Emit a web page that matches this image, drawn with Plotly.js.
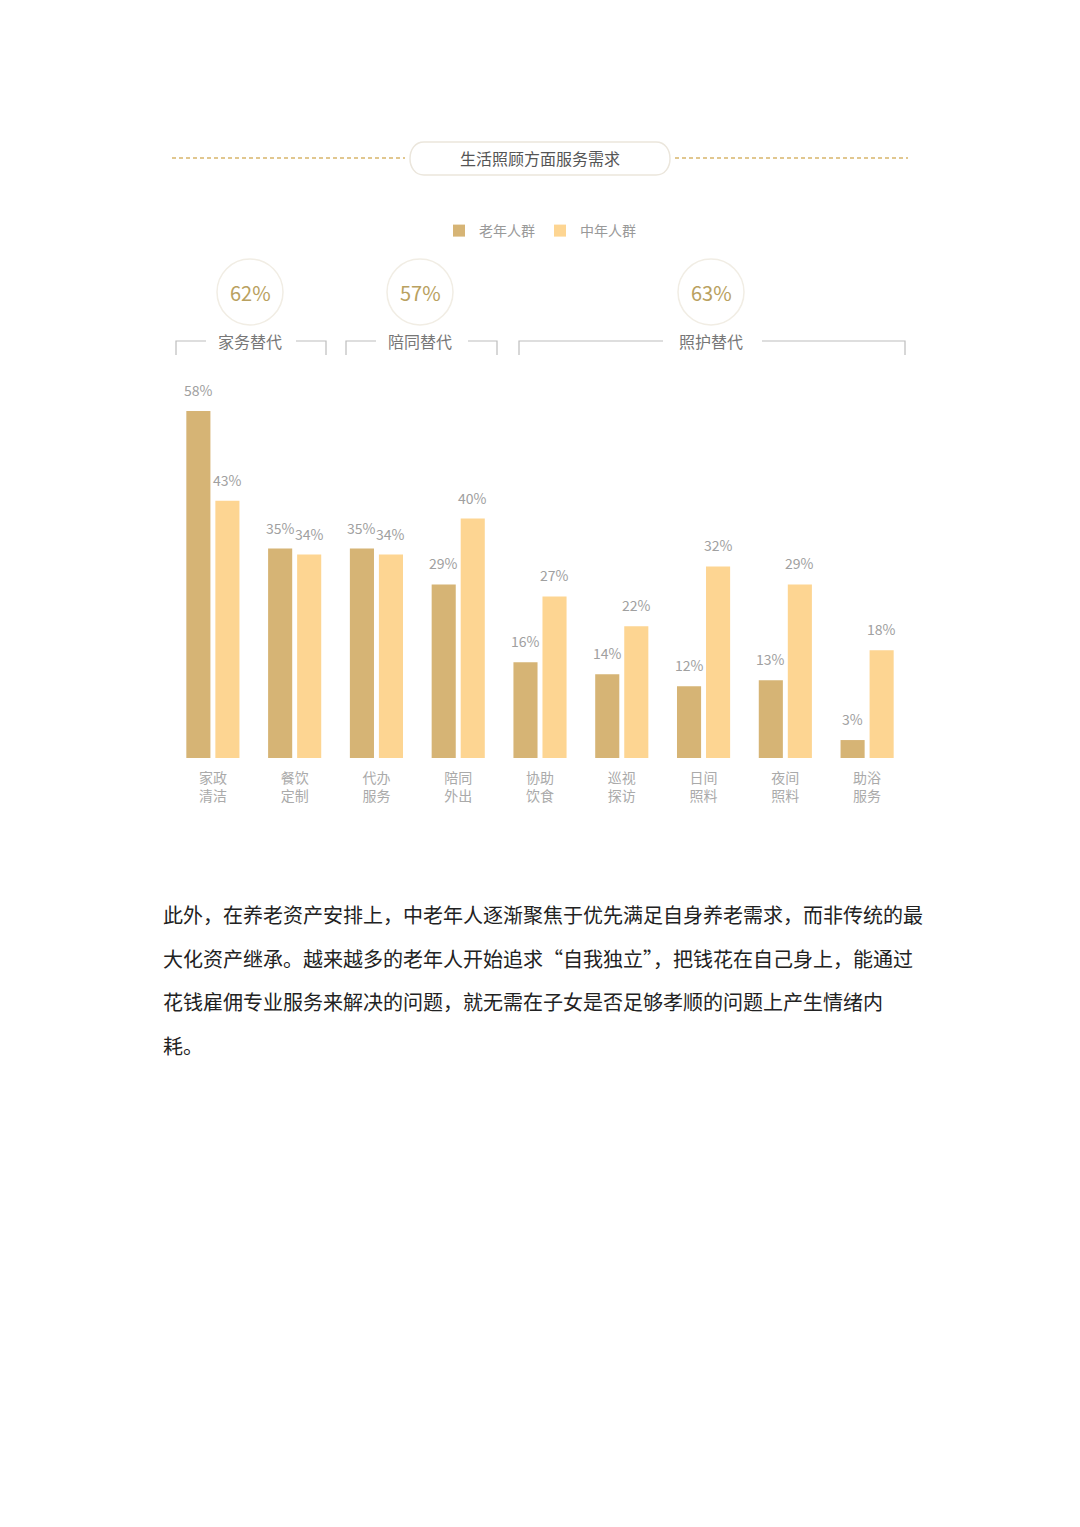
<!DOCTYPE html>
<html>
<head>
<meta charset="utf-8">
<script src="https://cdn.plot.ly/plotly-3.0.1.min.js"></script>
<style>
  body { margin: 0; background: #fff; }
  #wrap { position: relative; width: 1080px; height: 1527px; }
  #chart { position: absolute; left: 0; top: 0; width: 1080px; height: 1527px; }
  #para {
    position: absolute; left: 163px; top: 893px;
    font-family: "Noto Sans CJK SC", "Noto Sans", sans-serif;
    font-size: 20px; line-height: 43.7px; color: #222; white-space: nowrap;
  }
</style>
</head>
<body>
<div id="wrap">
  <div id="chart"></div>
  <div id="para">此外，在养老资产安排上，中老年人逐渐聚焦于优先满足自身养老需求，而非传统的最<br>大化资产继承。越来越多的老年人开始追求“自我独立”，把钱花在自己身上，能通过<br>花钱雇佣专业服务来解决的问题，就无需在子女是否足够孝顺的问题上产生情绪内<br>耗。</div>
</div>
<script>
// categories and values (percent)
var categories = ['家政<br>清洁', '餐饮<br>定制', '代办<br>服务', '陪同<br>外出', '协助<br>饮食', '巡视<br>探访', '日间<br>照料', '夜间<br>照料', '助浴<br>服务'];
var elderly = [58, 35, 35, 29, 16, 14, 12, 13, 3];
var middleAged = [43, 34, 34, 40, 27, 22, 32, 29, 18];
var seriesNames = ['老年人群', '中年人群'];

// group summaries
var groupNames = ['家务替代', '陪同替代', '照护替代'];
var groupShares = ['62%', '57%', '63%'];

var FONT = '"Noto Sans CJK SC", "Noto Sans", sans-serif';
var W = 1080, H = 1527;
function px(x) { return x / W; }
function py(y) { return 1 - y / H; }

var darkColor = '#d6b475';
var lightColor = '#fdd592';

var data = [
  { type: 'bar', x: categories, y: elderly, name: seriesNames[0],
    marker: { color: darkColor }, hoverinfo: 'skip' },
  { type: 'bar', x: categories, y: middleAged, name: seriesNames[1],
    marker: { color: lightColor }, hoverinfo: 'skip' }
];

var shapes = [];
var annotations = [];

// value labels above bars
var slot = 14.5;
categories.forEach(function (c, i) {
  [[elderly, -slot], [middleAged, slot]].forEach(function (s) {
    annotations.push({
      xref: 'x', yref: 'y', x: c, y: s[0][i], xshift: s[1], yshift: 9,
      xanchor: 'center', yanchor: 'bottom', showarrow: false, text: s[0][i] + '%',
      font: { family: FONT, size: 14, color: '#a0a0a0' }
    });
  });
});

function label(x, y, text, size, color) {
  annotations.push({ xref: 'paper', yref: 'paper', x: px(x), y: py(y), xanchor: 'center', yanchor: 'middle',
    showarrow: false, text: text, font: { family: FONT, size: size, color: color } });
}

// title with dashed lines and pill
var gold = '#d8b56b';
shapes.push({ type: 'line', xref: 'paper', yref: 'paper', x0: px(172), x1: px(405), y0: py(158), y1: py(158),
  line: { color: gold, width: 1.5, dash: '4px,3px' } });
shapes.push({ type: 'line', xref: 'paper', yref: 'paper', x0: px(675), x1: px(908), y0: py(158), y1: py(158),
  line: { color: gold, width: 1.5, dash: '4px,3px' } });
var l = 424, r = 656, t = 142, b = 175, k = 17;
var pill = 'M' + px(l) + ',' + py(t) + ' L' + px(r) + ',' + py(t) +
  ' C' + px(r + k * 1.1) + ',' + py(t) + ' ' + px(r + k * 1.1) + ',' + py(b) + ' ' + px(r) + ',' + py(b) +
  ' L' + px(l) + ',' + py(b) +
  ' C' + px(l - k * 1.1) + ',' + py(b) + ' ' + px(l - k * 1.1) + ',' + py(t) + ' ' + px(l) + ',' + py(t) + ' Z';
shapes.push({ type: 'path', xref: 'paper', yref: 'paper', path: pill,
  line: { color: '#ebe6dc', width: 1.5 }, fillcolor: '#ffffff' });
label(540, 158, '生活照顾方面服务需求', 16, '#555');

// group headers: circles, shares, names and brackets
var groupCx = [250, 420, 711];
var brackets = [[176, 206, 296, 326], [346, 376, 468, 497], [519, 663, 762, 905]];
groupNames.forEach(function (g, i) {
  var cx = groupCx[i];
  shapes.push({ type: 'circle', xref: 'paper', yref: 'paper',
    x0: px(cx - 33), x1: px(cx + 33), y0: py(325), y1: py(259),
    line: { color: '#f1ede4', width: 1.5 } });
  label(cx, 292, groupShares[i], 20, '#b9a160');
  label(cx, 341, g, 16, '#777');
  var bk = brackets[i];
  var lc = { color: '#bdbdbd', width: 1.2 };
  shapes.push({ type: 'path', xref: 'paper', yref: 'paper', line: lc,
    path: 'M' + px(bk[0]) + ',' + py(355) + ' L' + px(bk[0]) + ',' + py(341) + ' L' + px(bk[1]) + ',' + py(341) });
  shapes.push({ type: 'path', xref: 'paper', yref: 'paper', line: lc,
    path: 'M' + px(bk[2]) + ',' + py(341) + ' L' + px(bk[3]) + ',' + py(341) + ' L' + px(bk[3]) + ',' + py(355) });
});

var layout = {
  width: W, height: H,
  margin: { l: 0, r: 0, t: 0, b: 0 },
  paper_bgcolor: '#fff', plot_bgcolor: '#fff',
  barmode: 'group', bargap: 0.29, bargroupgap: 0.17,
  font: { family: FONT },
  showlegend: true,
  legend: { orientation: 'h', x: 0.5, xanchor: 'center', y: py(231), yanchor: 'middle',
    font: { family: FONT, size: 14, color: '#999' }, itemwidth: 30, traceorder: 'normal' },
  xaxis: { domain: [px(172), px(908)], anchor: 'y', showgrid: false, showline: false, zeroline: false,
    ticks: '', ticklabelstandoff: 10, tickfont: { family: FONT, size: 14, color: '#aaa' }, fixedrange: true },
  yaxis: { domain: [py(758), py(369)], range: [0, 65], visible: false, fixedrange: true },
  shapes: shapes,
  annotations: annotations
};

Plotly.newPlot('chart', data, layout, { displayModeBar: false, staticPlot: true });
</script>
</body>
</html>
